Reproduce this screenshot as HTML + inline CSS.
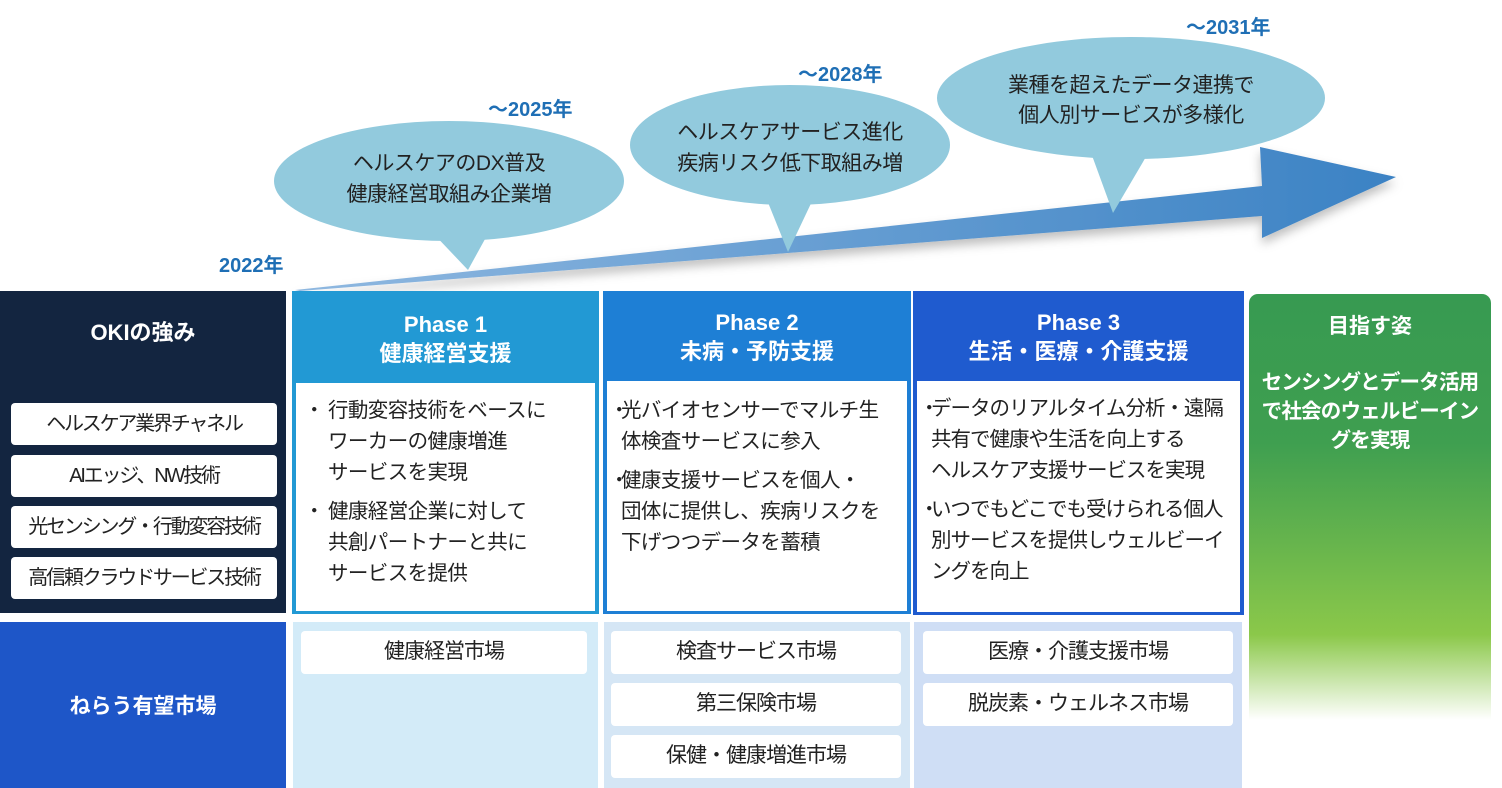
<!DOCTYPE html>
<html><head><meta charset="utf-8"><style>
*{margin:0;padding:0;box-sizing:border-box}
body{width:1502px;height:788px;background:#fff;position:relative;overflow:hidden;font-family:"Liberation Sans","Noto Sans CJK JP",sans-serif;color:#222}
.a{position:absolute}
.c{text-align:center}
.w{color:#fff;font-weight:bold}
.pill{position:absolute;background:#fff;border-radius:4px;text-align:center;font-size:21px;line-height:42px;color:#222;white-space:nowrap;letter-spacing:-1px}
.lp{font-size:20px;letter-spacing:-2.2px}
.body{position:absolute;background:#fff;font-size:20.5px;line-height:31px;color:#222;letter-spacing:-0.6px;white-space:nowrap}
.body p{position:relative;padding-left:26px;margin-bottom:8px}
.body p:before{content:"・";position:absolute;left:2px}
</style></head><body>
<svg class="a" style="left:0;top:0" width="1502" height="292">
<defs>
<linearGradient id="ar" x1="0" y1="0" x2="1" y2="0"><stop offset="0" stop-color="#8fb8e0"/><stop offset="1" stop-color="#3b82c4"/></linearGradient>
<filter id="sh"><feDropShadow dx="0" dy="6" stdDeviation="5" flood-color="#000" flood-opacity="0.25"/></filter>
</defs>
<polygon points="295,290 1262,186 1260,147 1396,177 1262,238 1262,216 300,291" fill="url(#ar)" filter="url(#sh)"/>
<g fill="#92cadd">
<ellipse cx="449" cy="181" rx="175" ry="60"/><polygon points="430,230 468,270 490,230"/>
<ellipse cx="790" cy="145" rx="160" ry="60"/><polygon points="765,195 788,252 815,195"/>
<ellipse cx="1131" cy="98" rx="194" ry="61"/><polygon points="1090,150 1113,213 1150,150"/>
</g>
<g font-family="Liberation Sans,Noto Sans CJK JP,sans-serif" font-size="21" fill="#222" text-anchor="middle" letter-spacing="-0.5">
<text x="449" y="170">ヘルスケアのDX普及</text><text x="449" y="201">健康経営取組み企業増</text>
<text x="790" y="139">ヘルスケアサービス進化</text><text x="790" y="170">疾病リスク低下取組み増</text>
<text x="1131" y="92">業種を超えたデータ連携で</text><text x="1131" y="122">個人別サービスが多様化</text>
</g>
<g font-family="Liberation Sans,Noto Sans CJK JP,sans-serif" font-size="20" font-weight="bold" fill="#1f6fb5">
<text x="488" y="116">～2025年</text><text x="798" y="81">～2028年</text><text x="1186" y="34">～2031年</text><text x="219" y="272">2022年</text>
</g>
</svg>

<div class="a" style="left:0;top:291px;width:286px;height:322px;background:#132540"></div>
<div class="a w c" style="left:0;top:315px;width:286px;font-size:22px">OKIの強み</div>
<div class="pill lp" style="left:11px;top:403px;width:266px">ヘルスケア業界チャネル</div>
<div class="pill lp" style="left:11px;top:455px;width:266px">AIエッジ、NW技術</div>
<div class="pill lp" style="left:11px;top:506px;width:266px">光センシング・行動変容技術</div>
<div class="pill lp" style="left:11px;top:557px;width:266px">高信頼クラウドサービス技術</div>
<div class="a" style="left:0;top:622px;width:286px;height:166px;background:#1e56c8"></div>
<div class="a w c" style="left:0;top:690px;width:286px;font-size:21px">ねらう有望市場</div>

<!-- Phase 1 -->
<div class="a" style="left:292px;top:291px;width:307px;height:323px;background:#2299d4"></div>
<div class="a w c" style="left:292px;top:310px;width:307px;font-size:22px;line-height:29px">Phase 1<br>健康経営支援</div>
<div class="body" style="left:296px;top:383px;width:299px;height:228px;padding:12px 4px 0 6px"><p>行動変容技術をベースに<br>ワーカーの健康増進<br>サービスを実現</p><p>健康経営企業に対して<br>共創パートナーと共に<br>サービスを提供</p></div>
<div class="a" style="left:293px;top:622px;width:305px;height:166px;background:#d3ebf8"></div>
<div class="pill" style="left:301px;top:631px;width:286px;height:43px">健康経営市場</div>

<!-- Phase 2 -->
<div class="a" style="left:603px;top:291px;width:308px;height:323px;background:#1e7fd5"></div>
<div class="a w c" style="left:603px;top:308px;width:308px;font-size:22px;line-height:29px">Phase 2<br>未病・予防支援</div>
<div class="body" style="left:607px;top:381px;width:300px;height:230px;padding:14px 2px 0 0"><p style="padding-left:14px">光バイオセンサーでマルチ生<br>体検査サービスに参入</p><p style="padding-left:14px">健康支援サービスを個人・<br>団体に提供し、疾病リスクを<br>下げつつデータを蓄積</p></div>
<div class="a" style="left:604px;top:622px;width:306px;height:166px;background:#d5e6f5"></div>
<div class="pill" style="left:611px;top:631px;width:290px;height:43px">検査サービス市場</div>
<div class="pill" style="left:611px;top:683px;width:290px;height:43px">第三保険市場</div>
<div class="pill" style="left:611px;top:735px;width:290px;height:43px">保健・健康増進市場</div>

<!-- Phase 3 -->
<div class="a" style="left:913px;top:291px;width:331px;height:324px;background:#1f5bcf"></div>
<div class="a w c" style="left:913px;top:308px;width:331px;font-size:22px;line-height:29px">Phase 3<br>生活・医療・介護支援</div>
<div class="body" style="left:917px;top:381px;width:323px;height:231px;padding:12px 0 0 0;letter-spacing:-1px"><p style="padding-left:14px">データのリアルタイム分析・遠隔<br>共有で健康や生活を向上する<br>ヘルスケア支援サービスを実現</p><p style="padding-left:14px">いつでもどこでも受けられる個人<br>別サービスを提供しウェルビーイ<br>ングを向上</p></div>
<div class="a" style="left:914px;top:622px;width:328px;height:166px;background:#cfdef5"></div>
<div class="pill" style="left:923px;top:631px;width:310px;height:43px">医療・介護支援市場</div>
<div class="pill" style="left:923px;top:683px;width:310px;height:43px">脱炭素・ウェルネス市場</div>

<!-- Goal -->
<div class="a" style="left:1249px;top:294px;width:242px;height:426px;border-radius:9px 9px 0 0;background:linear-gradient(to bottom,#379a51 0%,#3f9f50 35%,#8bc84a 80%,#ffffff 100%)"></div>
<div class="a w c" style="left:1249px;top:310px;width:242px;font-size:21px">目指す姿</div>
<div class="a w c" style="left:1249px;top:368px;width:242px;font-size:20.5px;line-height:29px;letter-spacing:-0.8px;white-space:nowrap">センシングとデータ活用<br>で社会のウェルビーイン<br>グを実現</div>
</body></html>
